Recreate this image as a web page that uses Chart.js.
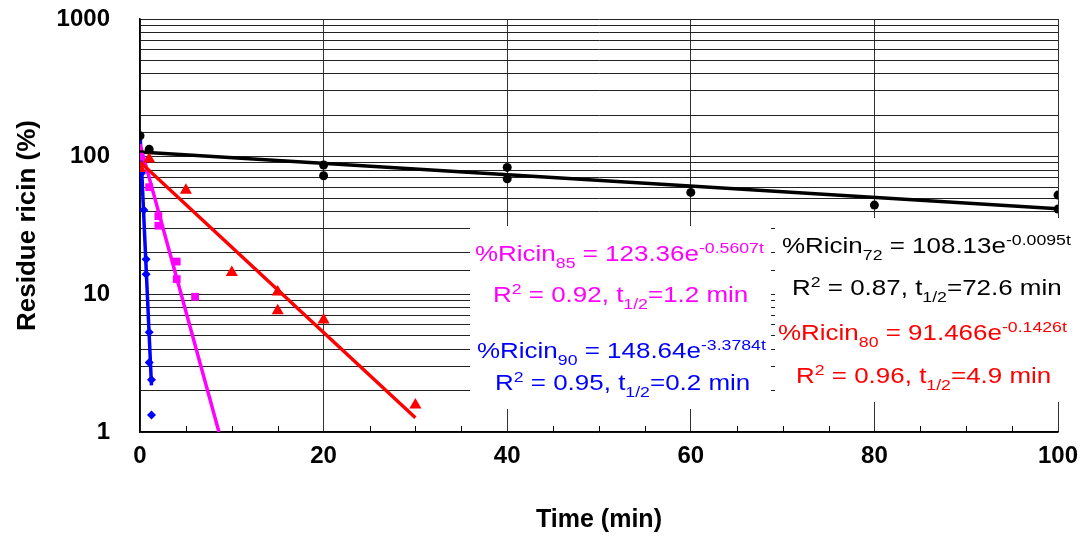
<!DOCTYPE html>
<html>
<head>
<meta charset="utf-8">
<script src="https://cdn.jsdelivr.net/npm/chart.js@4.4.1/dist/chart.umd.min.js"></script>
<style>
  html, body { margin: 0; padding: 0; background: #fff; }
  #wrap { position: relative; width: 1082px; height: 537px; }
  canvas { display: block; }
  .box { position: absolute; background: #fff; }
  .eq {
    position: absolute; white-space: nowrap;
    font-family: "Liberation Sans", Arial, sans-serif;
    font-size: 22px; line-height: 22px;
    transform: scaleX(1.18); transform-origin: 0 0;
  }
  .eq .up { font-size: 15px; position: relative; top: -8px; }
  .eq .dn { font-size: 15px; position: relative; top: 7px; }
  .mag { color: #ff00ff; } .blk { color: #000; } .blu { color: #0000ff; } .red { color: #ff0000; }
</style>
</head>
<body>
<div id="wrap">
  <canvas id="c" width="1082" height="537"></canvas>
  <div class="box" style="left:470px;top:226px;width:301px;height:183px"></div>
  <div class="box" style="left:775px;top:218px;width:307px;height:184px"></div>

  <div class="eq mag" style="left:475px;top:243px">%Ricin<span class="dn">85</span> = 123.36e<span class="up">-0.5607t</span></div>
  <div class="eq mag" style="left:493px;top:284px">R<span class="up">2</span> = 0.92, t<span class="dn">1/2</span>=1.2 min</div>

  <div class="eq blk" style="left:782px;top:235px">%Ricin<span class="dn">72</span> = 108.13e<span class="up">-0.0095t</span></div>
  <div class="eq blk" style="left:792px;top:277px">R<span class="up">2</span> = 0.87, t<span class="dn">1/2</span>=72.6 min</div>

  <div class="eq blu" style="left:477px;top:340px">%Ricin<span class="dn">90</span> = 148.64e<span class="up">-3.3784t</span></div>
  <div class="eq blu" style="left:495px;top:372px">R<span class="up">2</span> = 0.95, t<span class="dn">1/2</span>=0.2 min</div>

  <div class="eq red" style="left:778px;top:322px">%Ricin<span class="dn">80</span> = 91.466e<span class="up">-0.1426t</span></div>
  <div class="eq red" style="left:796px;top:365px">R<span class="up">2</span> = 0.96, t<span class="dn">1/2</span>=4.9 min</div>
</div>
<script>
  // measured points (time in min, residue ricin in %)
  const t72 = [0, 1, 20, 20, 40, 40, 60, 80, 100, 100];
  const v72 = [142, 113, 87, 72.7, 83.6, 69, 55, 44.5, 52.6, 41.6];

  const t80 = [0, 1, 5, 10, 15, 15, 20, 30];
  const v80 = [82, 96, 57, 14.4, 10.4, 7.6, 6.5, 1.57];

  const t85 = [0, 1, 2, 2, 4, 4, 6];
  const v85 = [100, 60, 37, 31.5, 17.3, 12.9, 9.6];

  const t90 = [0, 0.17, 0.42, 0.67, 0.67, 1, 1, 1.25, 1.25];
  const v90 = [100, 76, 41, 18, 14, 5.3, 3.2, 2.4, 1.33];

  // exponential trend lines (straight on log axis), start/end
  const fit72T = [0, 100];   const fit72V = [108.1, 41.8];
  const fit80T = [0, 30];    const fit80V = [91.5, 1.27];
  const fit85T = [0, 8.6];   const fit85V = [123.4, 1];
  const fit90T = [0, 1.25];  const fit90V = [148.6, 2.18];

  const xLabels = [0, 20, 40, 60, 80, 100];
  const yLabels = [1, 10, 100, 1000];

  const BLACK = '#000000', RED = '#ff0000', MAG = '#ff00ff', BLUE = '#0000ff';
  const pts = (ts, vs) => ts.map((t, i) => ({ x: t, y: vs[i] }));

  function fitSet(ts, vs, color) {
    return { type: 'line', data: pts(ts, vs), borderColor: color, borderWidth: 3.5,
             pointRadius: 0, fill: false, tension: 0, order: 2 };
  }
  function markSet(ts, vs, color, style, r) {
    return { type: 'scatter', data: pts(ts, vs), backgroundColor: color, borderColor: color,
             borderWidth: 0, pointStyle: style, pointRadius: r, order: 1 };
  }

  // short inward tick marks on the time axis between the labelled ones
  const minorTicks = {
    id: 'minorTicks',
    beforeDatasetsDraw(chart) {
      const sx = chart.scales.x, ctx = chart.ctx, b = chart.chartArea.bottom;
      ctx.save();
      ctx.strokeStyle = '#000'; ctx.lineWidth = 1;
      sx.ticks.forEach(tk => {
        if (xLabels.includes(tk.value)) return;
        const px = Math.round(sx.getPixelForValue(tk.value)) + 0.5;
        ctx.beginPath(); ctx.moveTo(px, b); ctx.lineTo(px, b - 6); ctx.stroke();
      });
      ctx.restore();
    }
  };

  Chart.defaults.font.family = '"Liberation Sans", Arial, sans-serif';
  Chart.defaults.color = '#000';

  new Chart(document.getElementById('c'), {
    type: 'scatter',
    data: {
      datasets: [
        fitSet(fit72T, fit72V, BLACK),
        fitSet(fit80T, fit80V, RED),
        fitSet(fit85T, fit85V, MAG),
        fitSet(fit90T, fit90V, BLUE),
        markSet(t72, v72, BLACK, 'circle', 4.5),
        markSet(t80, v80, RED, 'triangle', 7),
        markSet(t85, v85, MAG, 'rect', 5.5),
        markSet(t90, v90, BLUE, 'rectRot', 4.5)
      ]
    },
    options: {
      responsive: false,
      animation: false,
      layout: { padding: { top: 19, right: 24, left: 0, bottom: 0 } },
      plugins: { legend: { display: false }, tooltip: { enabled: false } },
      scales: {
        x: {
          type: 'linear', min: 0, max: 100,
          afterFit: s => { s.height = 105; },
          ticks: {
            stepSize: 5, autoSkip: false, maxRotation: 0, padding: 2,
            font: { size: 24, weight: 'bold' },
            callback: v => xLabels.includes(v) ? String(v) : ''
          },
          grid: {
            drawTicks: true, tickLength: 8, tickColor: 'rgba(0,0,0,0)',
            color: c => (c.tick && xLabels.includes(c.tick.value)) ? '#333' : 'rgba(0,0,0,0)',
            lineWidth: 1
          },
          border: { display: true, color: '#000', width: 1.5 },
          title: { display: true, text: 'Time (min)', font: { size: 25, weight: 'bold' },
                   padding: { top: 0, bottom: 2 } }
        },
        y: {
          type: 'logarithmic', min: 1, max: 1000,
          afterFit: s => { s.width = 140; },
          ticks: {
            autoSkip: false, padding: 2,
            font: { size: 24, weight: 'bold' },
            callback: v => yLabels.includes(v) ? String(v) : ''
          },
          grid: { drawTicks: true, tickLength: 28, tickColor: 'rgba(0,0,0,0)', color: '#222', lineWidth: 1 },
          border: { display: true, color: '#000', width: 1.5 },
          title: { display: true, text: 'Residue ricin (%)', font: { size: 26, weight: 'bold' },
                   padding: { top: 12, bottom: 0 } }
        }
      }
    },
    plugins: [minorTicks]
  });
</script>
</body>
</html>
